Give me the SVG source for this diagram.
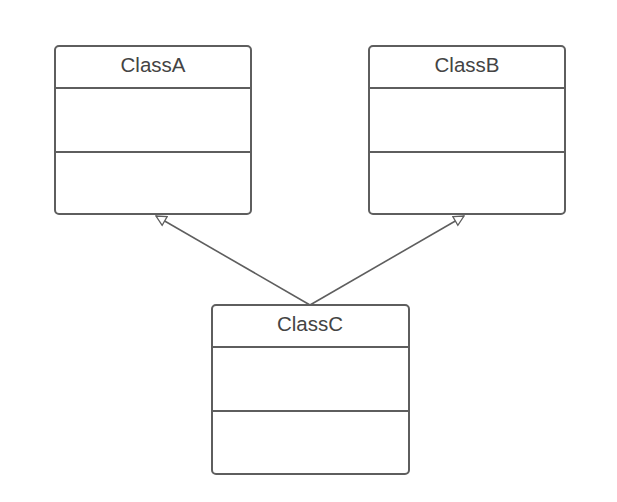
<svg xmlns="http://www.w3.org/2000/svg" width="617" height="502" viewBox="0 0 617 502">
  <style>
    .box { fill: #ffffff; stroke: #5e5e5e; stroke-width: 2; }
    .div { stroke: #5e5e5e; stroke-width: 2; }
    .title { font-family: "Liberation Sans", Arial, sans-serif; font-size: 20.5px; fill: #444444; text-anchor: middle; }
    .edge { stroke: #5e5e5e; stroke-width: 1.6; fill: none; marker-end: url(#hollow); }
  </style>
  <defs>
    <marker id="hollow" viewBox="0 0 12 12" refX="11" refY="6" markerWidth="12" markerHeight="12" markerUnits="userSpaceOnUse" orient="auto">
      <path d="M1,1 L11,6 L1,11 Z" fill="#ffffff" stroke="#5e5e5e" stroke-width="1.3"/>
    </marker>
  </defs>
  <rect width="617" height="502" fill="#ffffff"/>

  <g id="connectors">
    <line class="edge" x1="310" y1="305" x2="156" y2="216"/>
    <line class="edge" x1="310" y1="305" x2="464" y2="216"/>
  </g>

  <g id="classA">
    <rect class="box" x="55" y="46" width="196" height="168" rx="4"/>
    <line class="div" x1="55" y1="88" x2="251" y2="88"/>
    <line class="div" x1="55" y1="152" x2="251" y2="152"/>
    <text class="title" x="153" y="72">ClassA</text>
  </g>

  <g id="classB">
    <rect class="box" x="369" y="46" width="196" height="168" rx="4"/>
    <line class="div" x1="369" y1="88" x2="565" y2="88"/>
    <line class="div" x1="369" y1="152" x2="565" y2="152"/>
    <text class="title" x="467" y="72">ClassB</text>
  </g>

  <g id="classC">
    <rect class="box" x="212" y="305" width="197" height="169" rx="4"/>
    <line class="div" x1="212" y1="347" x2="409" y2="347"/>
    <line class="div" x1="212" y1="411" x2="409" y2="411"/>
    <text class="title" x="310" y="331">ClassC</text>
  </g>
</svg>
